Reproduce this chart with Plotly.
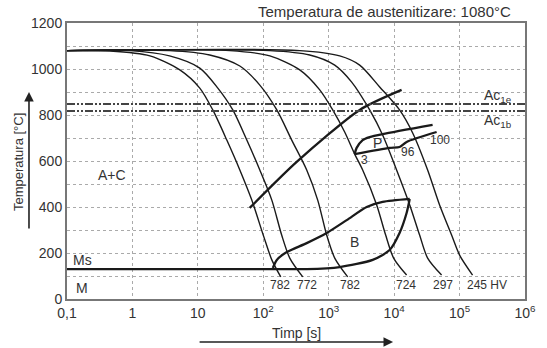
import numpy as np
import plotly.graph_objects as go

# ---- data (time in s, temperature in °C) ----
curve_hv = ["782", "772", "782", "724", "297", "245 HV"]
c1_t = [0.1, 0.45, 1.85, 5.3, 10.7, 16.9, 27.7, 43.8, 66.7, 102, 135, 185]
c1_T = [1080, 1078, 1057, 996, 917, 822, 691, 561, 430, 270, 170, 96]
c2_t = [0.1, 0.92, 3.7, 10.7, 20.2, 34.2, 56, 88.5, 135, 191, 254, 401]
c2_T = [1080, 1080, 1057, 1004, 917, 822, 691, 561, 430, 278, 178, 96]
c3_t = [0.1, 3.7, 15.2, 43.8, 88.5, 161, 272, 461, 679, 931, 1236, 1950]
c3_T = [1080, 1080, 1061, 1013, 930, 822, 691, 561, 430, 278, 178, 96]
c4_t = [0.1, 30.8, 126, 361, 729, 1150, 1754, 2495, 3303, 5410, 7420, 9820, 15500]
c4_T = [1080, 1080, 1057, 996, 909, 822, 726, 630, 561, 409, 278, 178, 104]
c5_t = [0.1, 126, 513, 1236, 2245, 4227, 6670, 10900, 17300, 24500, 32500, 53100]
c5_T = [1080, 1080, 1061, 1017, 943, 822, 713, 561, 409, 278, 178, 104]
c6_t = [0.1, 361, 1472, 2973, 6010, 12100, 19200, 32500, 49500, 75500, 100000, 158000]
c6_T = [1080, 1080, 1057, 1017, 922, 822, 722, 561, 409, 278, 191, 104]
hv_label_t = [179, 461, 2094, 15000, 55000, 119000]
hv_label_T = 63

ferrite_t = [62, 324, 2973, 13000]
ferrite_T = [396, 596, 822, 909]

p_upper_t = [2495, 2670, 3303, 4227, 6670, 38700]
p_upper_T = [630, 657, 691, 704, 717, 757]
p_lower_t = [2495, 8530, 12100, 15500, 44600]
p_lower_T = [630, 657, 661, 683, 726]

b_upper_t = [140, 161, 229, 461, 931, 1884, 3800, 6670, 17300]
b_upper_T = [135, 170, 204, 243, 287, 343, 400, 422, 435]
ms_b_lower_t = [0.1, 200, 461, 1472, 4700, 8530, 12100, 15500, 17300]
ms_b_lower_T = [130, 130, 130, 139, 170, 213, 287, 374, 435]

ac1e = 848
ac1b = 817

x_tickvals = [0.1, 1, 10, 100, 1e3, 1e4, 1e5, 1e6]
x_ticktext = ["0,1", "1", "10", "10<sup>2</sup>", "10<sup>3</sup>", "10<sup>4</sup>",
              "10<sup>5</sup>", "10<sup>6</sup>"]
y_tickvals = list(range(0, 1201, 100))
y_ticktext = [str(v) if v % 200 == 0 else "" for v in y_tickvals]

FONT = "Liberation Sans, Arial, sans-serif"
TXT = "#333"
LINE = "#1a1a1a"

fig = go.Figure()

curves = [(c1_t, c1_T), (c2_t, c2_T), (c3_t, c3_T), (c4_t, c4_T), (c5_t, c5_T), (c6_t, c6_T)]
for t, T in curves:
    fig.add_trace(go.Scatter(x=t, y=T, mode="lines",
                             line=dict(color=LINE, width=1.4, shape="spline", smoothing=0.8),
                             hoverinfo="skip", showlegend=False))

thick = dict(color=LINE, width=2.3, shape="spline", smoothing=0.7)
for t, T in [(ferrite_t, ferrite_T), (p_upper_t, p_upper_T), (p_lower_t, p_lower_T),
             (b_upper_t, b_upper_T), (ms_b_lower_t, ms_b_lower_T)]:
    fig.add_trace(go.Scatter(x=t, y=T, mode="lines", line=thick,
                             hoverinfo="skip", showlegend=False))

for ac in (ac1e, ac1b):
    fig.add_trace(go.Scatter(x=[0.1, 1e6], y=[ac, ac], mode="lines",
                             line=dict(color="#444", width=2, dash="8px,2px,2px,2px,2px,2px"),
                             hoverinfo="skip", showlegend=False))

ann = []
for lbl, t in zip(curve_hv, hv_label_t):
    ann.append(dict(x=np.log10(t), y=hv_label_T, text=lbl,
                    xanchor="left" if lbl.endswith("HV") else "center",
                    xref="x", yref="y", showarrow=False, yanchor="middle",
                    font=dict(family=FONT, size=12, color=TXT)))

region_labels = [("A+C", 0.49, 539), ("Ms", 0.17, 170), ("M", 0.17, 48),
                 ("B", 2495, 248), ("P", 5600, 678)]
for txt, t, T in region_labels:
    ann.append(dict(x=np.log10(t), y=T, xref="x", yref="y", text=txt, showarrow=False,
                    xanchor="center", yanchor="middle",
                    font=dict(family=FONT, size=14, color=TXT)))

small_labels = [("3", 3550, 604), ("96", 16100, 639), ("100", 49500, 691)]
for txt, t, T in small_labels:
    ann.append(dict(x=np.log10(t), y=T, xref="x", yref="y", text=txt, showarrow=False,
                    xanchor="center", yanchor="middle",
                    font=dict(family=FONT, size=12, color=TXT)))

ann.append(dict(x=np.log10(217000), y=884, xref="x", yref="y", xanchor="left", yanchor="middle",
                text="Ac<sub>1e</sub>", showarrow=False, font=dict(family=FONT, size=14, color=TXT)))
ann.append(dict(x=np.log10(217000), y=772, xref="x", yref="y", xanchor="left", yanchor="middle",
                text="Ac<sub>1b</sub>", showarrow=False, font=dict(family=FONT, size=14, color=TXT)))

# title
ann.append(dict(x=0.974, y=1.04, xref="paper", yref="paper", xanchor="right", yanchor="middle",
                text="Temperatura de austenitizare: 1080°C", showarrow=False,
                font=dict(family=FONT, size=15, color=TXT)))
# axis titles
ann.append(dict(x=0.5, y=-0.123, xref="paper", yref="paper", text="Timp [s]", showarrow=False,
                xanchor="center", yanchor="middle", font=dict(family=FONT, size=14, color=TXT)))
ann.append(dict(x=-0.107, y=0.496, xref="paper", yref="paper", text="Temperatura [°C]",
                showarrow=False, textangle=-90, xanchor="center", yanchor="middle",
                font=dict(family=FONT, size=13, color=TXT)))
# axis arrows
ann.append(dict(x=0.712, y=-0.156, xref="paper", yref="paper", ax=-195, ay=0, text="",
                showarrow=True, arrowhead=2, arrowsize=1.2, arrowwidth=1.6, arrowcolor="#222"))
ann.append(dict(x=-0.083, y=0.75, xref="paper", yref="paper", ax=0, ay=138, text="",
                showarrow=True, arrowhead=2, arrowsize=1.2, arrowwidth=1.6, arrowcolor="#222"))

fig.update_layout(
    width=547, height=348,
    margin=dict(l=67, r=22, t=23, b=49),
    paper_bgcolor="white", plot_bgcolor="white",
    font=dict(family=FONT, size=14, color=TXT),
    annotations=ann,
    showlegend=False,
)
fig.update_xaxes(type="log", range=[-1, 6], tickvals=x_tickvals, ticktext=x_ticktext,
                 showgrid=True, gridcolor="#aaa", griddash="dot", gridwidth=1,
                 showline=True, mirror=True, linecolor="#777", linewidth=2,
                 ticks="", zeroline=False, automargin=False, tickfont=dict(size=14, color=TXT))
fig.update_yaxes(range=[0, 1200], tickvals=y_tickvals, ticktext=y_ticktext,
                 showgrid=True, gridcolor="#aaa", griddash="dot", gridwidth=1,
                 showline=True, mirror=True, linecolor="#777", linewidth=2,
                 ticks="", zeroline=False, automargin=False, tickfont=dict(size=14, color=TXT))

# remove the default page margin so the figure sits at the window's top-left corner
fig.write_html("out.html",
               config={"displayModeBar": False, "staticPlot": True},
               post_script="document.body.style.margin='0px';document.body.style.overflow='hidden';")
